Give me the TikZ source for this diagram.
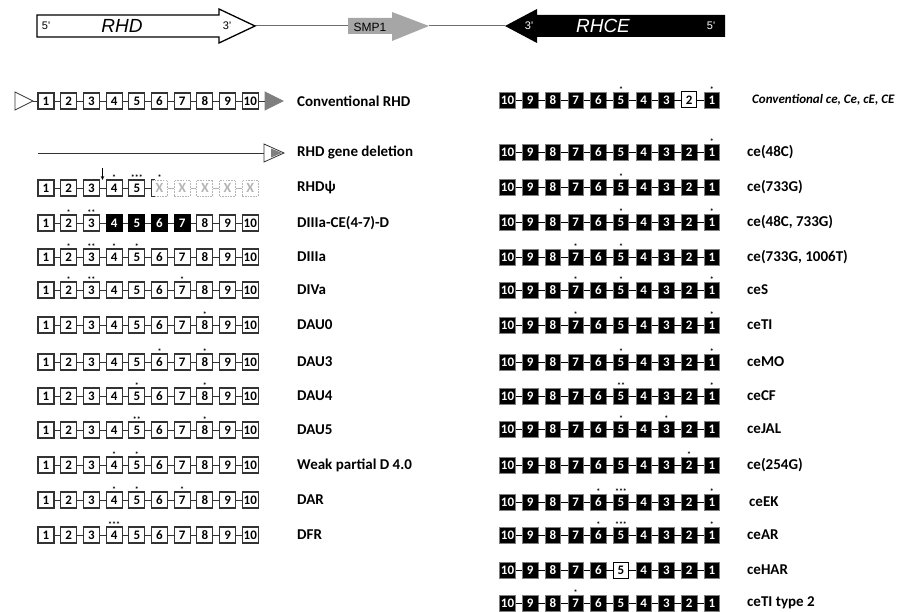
\documentclass[tikz,border=0pt]{standalone}
\usepackage{fontspec}
\setmainfont{Carlito}
\newfontfamily\arialfont{Liberation Sans}
\usepackage{tikz}
\usetikzlibrary{calc,arrows.meta}
\definecolor{ExonLine}{HTML}{333333}
\definecolor{SmpGray}{HTML}{A6A6A6}
\definecolor{LostGray}{HTML}{B4B4B4}
\definecolor{TipGray}{HTML}{7F7F7F}
\definecolor{BarLine}{HTML}{6E6E6E}

\tikzset{
  exnum/.style={font=\fontsize{13}{13}\selectfont\bfseries},
  dexon/.style={exnum,draw=ExonLine,line width=1.1pt,fill=white,
    minimum width=16pt,minimum height=16pt,inner sep=0pt},
  dceexon/.style={fill=black,draw=black,text=white},
  ceexon/.style={exnum,draw=gray,line width=0.6pt,fill=black,text=white,
    minimum width=15.5pt,minimum height=16pt,inner sep=0pt},
  ceopen/.style={fill=white,draw=black,line width=1pt,text=black},
  lostexon/.style={font=\fontsize{14}{14}\selectfont\bfseries,draw=LostGray,line width=0.9pt,
    dash pattern=on 1.6pt off 1.1pt,text=LostGray,
    minimum width=16pt,minimum height=16pt,inner sep=0pt},
  link/.style={draw=ExonLine,line width=0.9pt},
  lostlink/.style={draw=LostGray,line width=0.9pt},
  celink/.style={draw=black,line width=0.8pt},
  rowlab/.style={anchor=west,inner sep=0pt,font=\fontsize{15}{15}\selectfont\bfseries},
  mutmark/.style={anchor=base,inner sep=0pt,yshift=-0.6pt,
    font=\fontsize{8}{8}\selectfont\bfseries},
  gtag/.style={inner sep=0pt,font=\arialfont\fontsize{11}{11}\selectfont},
  gname/.style={inner sep=0pt,font=\arialfont\itshape\fontsize{19}{19}\selectfont}
}

% left column: RHD exons 1..10, label at x=297
\newcommand{\drow}[3]{%
  \foreach \i in {1,...,10}
    \node[dexon,ex\i/.try] (#1-\i) at ({46+(\i-1)*22.7},#2) {\i};
  \foreach \i [evaluate=\i as \j using int(\i+1)] in {1,...,9}
    \draw[link] (#1-\i) -- (#1-\j);
  \node[rowlab] (#1-lab) at (297,#2) {#3};
}
% right column: RHCE exons 10..1
\newcommand{\cerow}[4][747]{%
  \foreach \i in {1,...,10}
    \node[ceexon,ex\i/.try] (#2-\i) at ({507.5+(10-\i)*22.7},#3) {\i};
  \foreach \i [evaluate=\i as \j using int(\i+1)] in {1,...,9}
    \draw[celink] (#2-\j) -- (#2-\i);
  \node[rowlab] (#2-lab) at (#1,#3) {#4};
}
% asterisks above an exon
\newcommand{\snv}[3]{\node[mutmark] (#1-m#2) at (#1-#2.north) {#3};}

\begin{document}
\begin{tikzpicture}[x=1pt,y=-1pt]
  \useasboundingbox (0,0) rectangle (898,612);

  % gene locus
  \coordinate (rhd-tip) at (255,26);
  \coordinate (smp-tail) at (348,26);
  \coordinate (smp-tip) at (429,26);
  \coordinate (rhce-tip) at (505,26);
  \draw[BarLine,line width=1pt] (rhd-tip) -- (smp-tail);
  \draw[BarLine,line width=1pt] (smp-tip) -- (rhce-tip);
  \draw[line width=1.3pt,fill=white] (37,15) -- (219,15) -- (219,9) -- (rhd-tip)
    -- (219,43) -- (219,37) -- (37,37) -- cycle;
  \fill[SmpGray] (smp-tail) -- (348,18) -- (392,18) -- (392,12) -- (smp-tip)
    -- (392,41) -- (392,34) -- (348,34) -- cycle;
  \fill[black] (725,15) -- (537,15) -- (537,9) -- (rhce-tip) -- (537,43)
    -- (537,37) -- (725,37) -- cycle;
  \node[gtag] (rhd-5) at (46,26) {5'};
  \node[gname] (rhd-name) at (122,26) {RHD};
  \node[gtag] (rhd-3) at (227,26) {3'};
  \node[gtag,font=\arialfont\fontsize{12}{12}\selectfont] (smp-name) at (370,27) {SMP1};
  \node[gtag,white] (rhce-3) at (529,26) {3'};
  \node[gname,white] (rhce-name) at (603,26) {RHCE};
  \node[gtag,white] (rhce-5) at (711,26) {5'};

  % RHD variants
  \drow{crhd}{101}{Conventional RHD}
  \coordinate (crhd-in) at (33,101);
  \coordinate (crhd-out) at (265,101);
  \draw[ExonLine,line width=0.8pt,fill=white] (15,92) -- (crhd-in) -- (15,110) -- cycle;
  \draw[TipGray,line width=0.8pt,fill=TipGray] (crhd-out) -- (265,92) -- (283,101) -- (265,110) -- cycle;
  \draw[link] (crhd-in) -- (crhd-1);
  \draw[link] (crhd-10) -- (crhd-out);

  \coordinate (del-start) at (38,153);
  \coordinate (del-end) at (264,153);
  \draw[link] (del-start) -- (del-end);
  \draw[ExonLine,line width=0.8pt,fill=white] (264,144) -- (284,153) -- (264,162) -- cycle;
  \fill[TipGray] (271,148.5) -- (282,153) -- (271,157.5) -- cycle;
  \node[rowlab] (del-lab) at (297,153) {RHD gene deletion};

  \foreach \i in {1,...,5}
    \node[dexon] (psi-\i) at ({46+(\i-1)*22.7},188) {\i};
  \foreach \i in {6,...,10}
    \node[lostexon] (psi-\i) at ({46+(\i-1)*22.7},188) {X};
  \foreach \i [evaluate=\i as \j using int(\i+1)] in {1,...,5}
    \draw[link] (psi-\i) -- (psi-\j);
  \foreach \i [evaluate=\i as \j using int(\i+1)] in {6,...,9}
    \draw[lostlink] (psi-\i) -- (psi-\j);
  \draw[ExonLine,line width=1.1pt] ([xshift=4pt]psi-6.north west) -- (psi-6.north west)
    -- (psi-6.south west) -- ([xshift=4pt]psi-6.south west);
  \node[rowlab] (psi-lab) at (297,188) {RHDψ};
  \coordinate (psi-cuttop) at (102.5,168);
  \coordinate (psi-cutend) at (102.5,180);
  \draw[-{Stealth[length=4pt,width=3.5pt]},line width=0.8pt] (psi-cuttop) -- (psi-cutend);
  \snv{psi}{4}{*} \snv{psi}{5}{***} \snv{psi}{6}{*}

  \begin{scope}[ex4/.style=dceexon,ex5/.style=dceexon,ex6/.style=dceexon,ex7/.style=dceexon]
    \drow{d3ce}{223}{DIIIa-CE(4-7)-D}
  \end{scope}
  \snv{d3ce}{2}{*} \snv{d3ce}{3}{**}

  \drow{d3a}{257}{DIIIa}
  \snv{d3a}{2}{*} \snv{d3a}{3}{**} \snv{d3a}{4}{*} \snv{d3a}{5}{*}

  \drow{d4a}{290}{DIVa}
  \snv{d4a}{2}{*} \snv{d4a}{3}{**} \snv{d4a}{7}{*}

  \drow{dau0}{325}{DAU0}
  \snv{dau0}{8}{*}

  \drow{dau3}{362}{DAU3}
  \snv{dau3}{6}{*} \snv{dau3}{8}{*}

  \drow{dau4}{396}{DAU4}
  \snv{dau4}{5}{*} \snv{dau4}{8}{*}

  \drow{dau5}{430}{DAU5}
  \snv{dau5}{5}{**} \snv{dau5}{8}{*}

  \drow{wpd}{465}{Weak partial D 4.0}
  \snv{wpd}{4}{*} \snv{wpd}{5}{*}

  \drow{dar}{500}{DAR}
  \snv{dar}{4}{*} \snv{dar}{5}{*} \snv{dar}{7}{*}

  \drow{dfr}{535}{DFR}
  \snv{dfr}{4}{***}

  % RHCE variants
  \begin{scope}[ex2/.style=ceopen]
    \cerow[752]{cce}{100}{\fontsize{13}{13}\selectfont\itshape Conventional ce, Ce, cE, CE}
  \end{scope}
  \snv{cce}{5}{*} \snv{cce}{1}{*}

  \cerow{ce48}{152}{ce(48C)}
  \snv{ce48}{1}{*}

  \cerow{ce733}{187}{ce(733G)}
  \snv{ce733}{5}{*}

  \cerow{cedbl}{222}{ce(48C, 733G)}
  \snv{cedbl}{5}{*} \snv{cedbl}{1}{*}

  \cerow{ce1006}{257}{ce(733G, 1006T)}
  \snv{ce1006}{7}{*} \snv{ce1006}{5}{*}

  \cerow{ceS}{290}{ceS}
  \snv{ceS}{7}{*} \snv{ceS}{5}{*} \snv{ceS}{1}{*}

  \cerow{ceTI}{325}{ceTI}
  \snv{ceTI}{7}{*} \snv{ceTI}{1}{*}

  \cerow{ceMO}{362}{ceMO}
  \snv{ceMO}{5}{*} \snv{ceMO}{1}{*}

  \cerow{ceCF}{396}{ceCF}
  \snv{ceCF}{5}{**} \snv{ceCF}{1}{*}

  \cerow{ceJAL}{429}{ceJAL}
  \snv{ceJAL}{5}{*} \snv{ceJAL}{3}{*}

  \cerow{ce254}{465}{ce(254G)}
  \snv{ce254}{2}{*}

  \cerow[749]{ceEK}{502}{ceEK}
  \snv{ceEK}{6}{*} \snv{ceEK}{5}{***} \snv{ceEK}{1}{*}

  \cerow{ceAR}{535}{ceAR}
  \snv{ceAR}{6}{*} \snv{ceAR}{5}{***} \snv{ceAR}{1}{*}

  \begin{scope}[ex5/.style=ceopen]
    \cerow{ceHAR}{570}{ceHAR}
  \end{scope}

  \cerow{ceTIb}{603}{ceTI type 2}
  \snv{ceTIb}{7}{*}
\end{tikzpicture}
\end{document}
